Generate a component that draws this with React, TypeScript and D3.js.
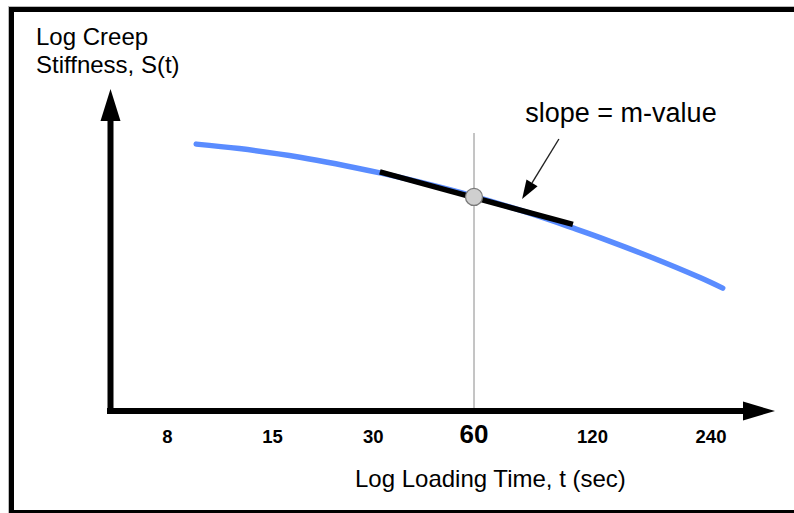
import React from "react";
import * as d3 from "d3";

// Loading time (s) tick labels on the log time axis
const timeTicks = [8, 15, 30, 60, 120, 240];
// Master curve: log loading time vs log creep stiffness (arbitrary log units)
const curveTime = [9.5, 12.3, 18.1, 31.4, 41.4, 60, 83, 107, 125.4, 168, 225, 257];
const curveLogS = [8.34, 8.2, 7.93, 7.44, 7.15, 6.71, 6.18, 5.72, 5.42, 4.82, 4.17, 3.84];
// Tangent (slope = m-value) at t = 60 s
const tangentTime = [31.4, 107];
const tangentLogS = [7.47, 5.83];
const refTime = 60;
const refLogS = 6.69;
// Annotation arrow (from label toward tangent)
const annoTime = [98.6, 79.5];
const annoLogS = [8.5, 6.625];
const annoLabelTime = 81;
const annoLabelLogS = 9.03;

const W = 794;
const H = 513;
const FONT = "'Liberation Sans', Arial, Helvetica, sans-serif";

export default function App() {
  const x = d3
    .scaleLog()
    .domain([8, 15, 60, 240])
    .range([167.5, 272.5, 474, 711]);
  const y = d3.scaleLinear().domain([0, 10]).range([411, 91]);

  const curvePts: [number, number][] = curveTime.map((t, i) => [x(t), y(curveLogS[i])]);
  const line = d3.line().curve(d3.curveCatmullRom.alpha(0.5));
  const curvePath = line(curvePts) || "";

  const tanPath = d3.line()(tangentTime.map((t, i) => [x(t), y(tangentLogS[i])] as [number, number])) || "";

  // axes geometry
  const axX = 110.5;
  const axY = 411;
  const yTop = 89;
  const xRight = 775;

  // annotation arrow
  const ax0 = x(annoTime[0]);
  const ay0 = y(annoLogS[0]);
  const ax1 = x(annoTime[1]);
  const ay1 = y(annoLogS[1]);
  const dx = ax1 - ax0;
  const dy = ay1 - ay0;
  const len = Math.hypot(dx, dy);
  const ux = dx / len;
  const uy = dy / len;
  const headL = 19;
  const headW = 6.5;
  const bx = ax1 - ux * headL;
  const by = ay1 - uy * headL;
  const head = `M${ax1},${ay1}L${bx - uy * headW},${by + ux * headW}L${bx + uy * headW},${by - ux * headW}Z`;

  return (
    <div style={{ position: "absolute", left: 0, top: 0 }}>
      <svg width={W} height={H} style={{ display: "block", background: "#fff" }}>
        {/* frame */}
        <rect x={8.5} y={6.5} width={900} height={600} fill="none" stroke="#bbb" strokeWidth={1} />
        <rect x={11.5} y={9.5} width={900} height={503} fill="none" stroke="#000" strokeWidth={5} />

        {/* reference vertical line at 60 s */}
        <line x1={x(refTime)} x2={x(refTime)} y1={133} y2={axY - 3} stroke="#8a8a8a" strokeWidth={1} />

        {/* curve */}
        <path d={curvePath} fill="none" stroke="#5a8cff" strokeWidth={5.5} strokeLinecap="round" />

        {/* tangent */}
        <path d={tanPath} fill="none" stroke="#000" strokeWidth={5.5} strokeLinecap="butt" />

        {/* point */}
        <circle cx={x(refTime)} cy={y(refLogS)} r={8.5} fill="#cfcfcf" stroke="#7a7a7a" strokeWidth={1.3} />

        {/* annotation */}
        <line x1={ax0} y1={ay0} x2={bx} y2={by} stroke="#222" strokeWidth={1.4} />
        <path d={head} fill="#000" />
        <text x={x(annoLabelTime)} y={y(annoLabelLogS)} fontFamily={FONT} fontSize={27} fill="#000">
          slope = m-value
        </text>

        {/* axes */}
        <path d={`M${axX},${axY + 3}L${axX},${yTop + 30}`} stroke="#000" strokeWidth={6} fill="none" />
        <path d={`M${axX - 10},${yTop + 32}L${axX},${yTop}L${axX + 10},${yTop + 32}Z`} fill="#000" />
        <path d={`M${axX - 3.5},${axY}L${xRight - 30},${axY}`} stroke="#000" strokeWidth={6} fill="none" />
        <path d={`M${xRight - 32},${axY - 9.5}L${xRight},${axY}L${xRight - 32},${axY + 9.5}Z`} fill="#000" />

        {/* tick labels */}
        {timeTicks.map((t) => (
          <text
            key={t}
            x={x(t)}
            y={443}
            textAnchor="middle"
            fontFamily={FONT}
            fontWeight="bold"
            fontSize={t === refTime ? 26 : 18.5}
            fill="#000"
          >
            {t}
          </text>
        ))}

        {/* axis titles */}
        <text x={36} y={44.5} fontFamily={FONT} fontSize={24} fill="#000">
          Log Creep
        </text>
        <text x={36} y={72.5} fontFamily={FONT} fontSize={24} fill="#000">
          Stiffness, S(t)
        </text>
        <text x={355} y={487} fontFamily={FONT} fontSize={24} fill="#000">
          Log Loading Time, t (sec)
        </text>
      </svg>
    </div>
  );
}
